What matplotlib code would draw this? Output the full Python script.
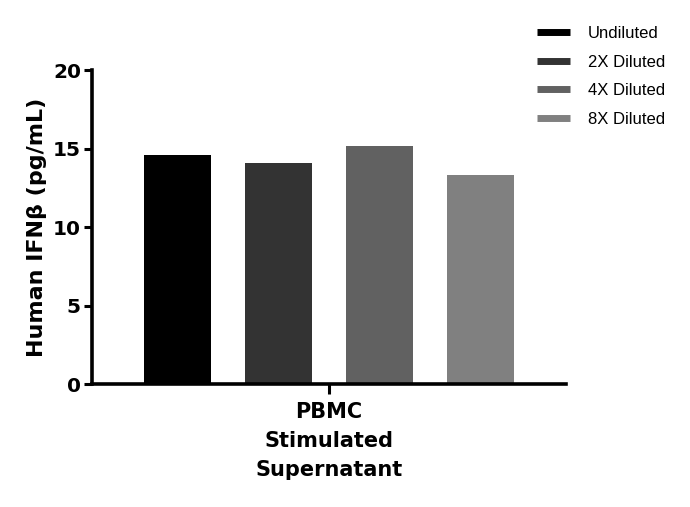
import numpy as np
import matplotlib.pyplot as plt
from matplotlib.lines import Line2D

# values
series = ['Undiluted', '2X Diluted', '4X Diluted', '8X Diluted']
values = [14.6, 14.1, 15.15, 13.35]
colors = ['#000000', '#333333', '#616161', '#808080']
group_label = 'PBMC\nStimulated\nSupernatant'

fig = plt.figure(figsize=(6.9, 5.07), dpi=100)
ax = fig.add_axes([92 / 690, 1 - 384.3 / 507, (566 - 92) / 690, (384.3 - 70) / 507])

x = np.arange(len(series))
ax.bar(x, values, width=0.667, color=colors)

ax.set_xlim(-0.847, 3.847)
ax.set_ylim(0, 20)
ax.set_yticks([0, 5, 10, 15, 20])
ax.set_xticks([1.5])
ax.set_xticklabels([group_label], fontsize=15, fontweight='bold', linespacing=1.55)
ax.tick_params(axis='y', labelsize=14.5, width=2.2, length=6, pad=2)
ax.tick_params(axis='x', width=2.2, length=7, pad=6)
for lab in ax.get_yticklabels():
    lab.set_fontweight('bold')

ax.set_ylabel('Human IFNβ (pg/mL)', fontsize=16, fontweight='bold', labelpad=4)

for side in ['top', 'right']:
    ax.spines[side].set_visible(False)
for side in ['left', 'bottom']:
    ax.spines[side].set_linewidth(2.6)

handles = [Line2D([0], [0], color=c, linewidth=5, solid_capstyle='butt') for c in colors]
fig.legend(handles, series, loc='upper left', bbox_to_anchor=(537 / 690, 1 - 26 / 507),
           frameon=False, handlelength=2.0, handletextpad=1.05,
           labelspacing=0.82, borderpad=0, borderaxespad=0,
           prop={'family': 'Liberation Sans', 'size': 12})

fig.savefig('out.png', dpi=100)
